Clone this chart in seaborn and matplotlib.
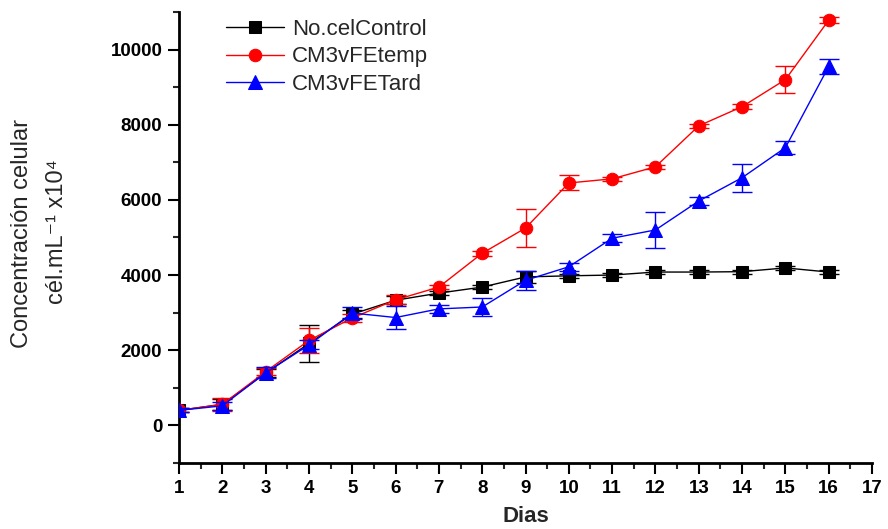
import matplotlib
matplotlib.use("Agg")
import matplotlib.pyplot as plt
import seaborn as sns
import pandas as pd
import numpy as np
from matplotlib.ticker import MultipleLocator

days = list(range(1, 17))
control = [400, 560, 1390, 2180, 2960, 3330, 3520, 3680, 3950, 3980, 4000, 4080, 4080, 4090, 4190, 4080]
control_err = [50, 150, 100, 500, 100, 100, 60, 60, 150, 60, 50, 50, 50, 50, 50, 50]
temp = [400, 560, 1430, 2260, 2860, 3340, 3680, 4580, 5250, 6450, 6560, 6880, 7970, 8480, 9200, 10780]
temp_err = [50, 180, 100, 330, 100, 120, 50, 60, 500, 200, 60, 60, 60, 60, 350, 80]
tard = [400, 520, 1400, 2140, 2990, 2870, 3100, 3150, 3860, 4220, 4980, 5200, 5970, 6590, 7390, 9550]
tard_err = [50, 100, 150, 120, 150, 300, 100, 250, 250, 100, 100, 470, 100, 370, 180, 200]
labels = ["No.celControl", "CM3vFEtemp", "CM3vFETard"]
colors = ["black", "red", "blue"]
markers = ["s", "o", "^"]
msizes = [8, 9, 10]

sns.set_theme(style="white")
plt.rcParams["font.family"] = ["Liberation Sans", "DejaVu Sans"]
plt.rcParams["mathtext.fontset"] = "custom"
plt.rcParams["mathtext.rm"] = "Liberation Sans"
plt.rcParams["mathtext.it"] = "Liberation Sans"
plt.rcParams["mathtext.bf"] = "Liberation Sans:bold"
plt.rcParams["mathtext.default"] = "regular"

fig = plt.figure(figsize=(8.88, 5.29), dpi=100)
ax = fig.add_axes([0.2016, 0.1248, 0.7804, 0.8526])

series = [control, temp, tard]
errs = [control_err, temp_err, tard_err]
for i, (vals, e) in enumerate(zip(series, errs)):
    df = pd.DataFrame({"Dias": days, "val": vals})
    ax.errorbar(days, vals, yerr=e, fmt="none", ecolor=colors[i], elinewidth=1,
                capsize=7, capthick=1, zorder=2 + i)
    sns.lineplot(data=df, x="Dias", y="val", ax=ax, color=colors[i], marker=markers[i],
                 markersize=msizes[i], markeredgecolor=colors[i], linewidth=1,
                 label=labels[i], zorder=3 + i)

ax.set_xlim(1, 17)
ax.set_ylim(-1000, 11000)
ax.xaxis.set_major_locator(MultipleLocator(1))
ax.xaxis.set_minor_locator(MultipleLocator(0.5))
ax.set_yticks([0, 2000, 4000, 6000, 8000, 10000])
ax.yaxis.set_minor_locator(MultipleLocator(1000))
ax.tick_params(axis="both", which="major", direction="out", length=8, width=1.5,
               labelsize=13.5, colors="black", bottom=True, left=True, pad=4)
ax.tick_params(axis="both", which="minor", direction="out", length=4, width=1.5,
               bottom=True, left=True)
for lab in ax.get_xticklabels() + ax.get_yticklabels():
    lab.set_fontweight("bold")

for s in ["top", "right"]:
    ax.spines[s].set_visible(False)
for s in ["left", "bottom"]:
    ax.spines[s].set_linewidth(2)
    ax.spines[s].set_color("black")

ax.set_ylabel("")
ax.set_xlabel("Dias", fontsize=16, fontweight="bold", labelpad=7)

fig.text(0.025, 0.559, "Concentración celular", rotation=90, fontsize=17,
         ha="center", va="center")
fig.text(0.064, 0.562, "cél.mL\u207b\u00b9 x10\u2074", rotation=90, fontsize=17,
         ha="center", va="center")

leg = ax.legend(loc="upper left", bbox_to_anchor=(0.068, 0.985), frameon=False,
                fontsize=16, handlelength=2.6, handletextpad=0.36,
                labelspacing=0.3, borderpad=0, borderaxespad=0)

fig.savefig("out.png", dpi=100)
